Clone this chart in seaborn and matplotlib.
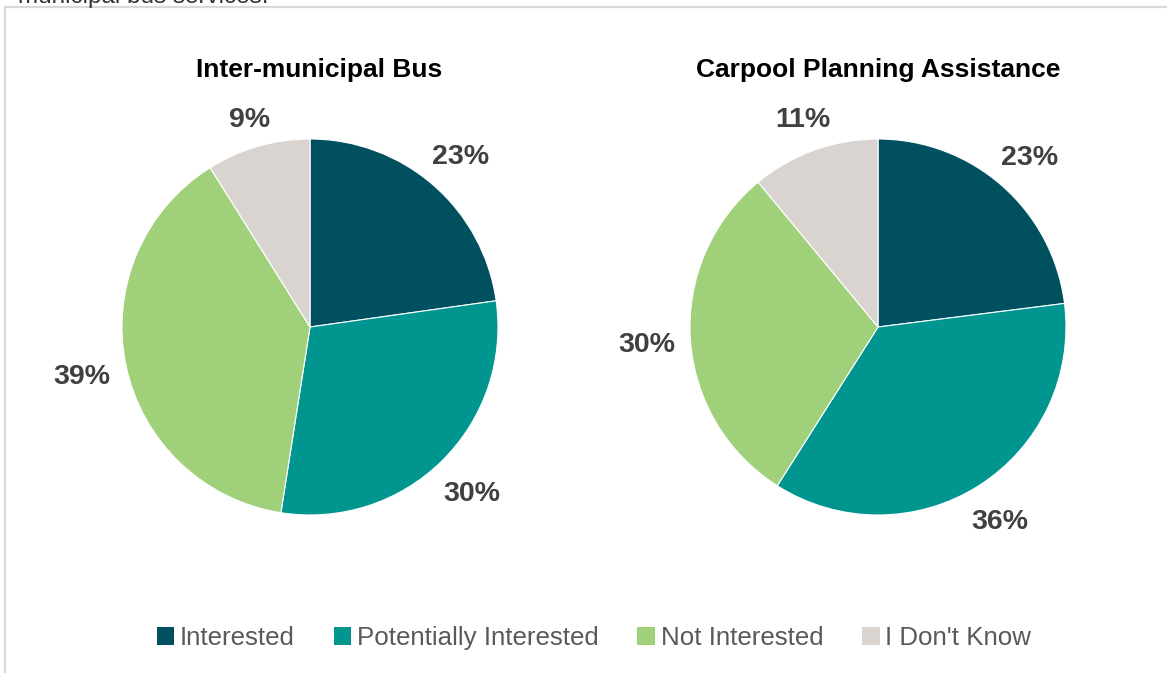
import matplotlib
matplotlib.use("Agg")
import numpy as np
import matplotlib.pyplot as plt
from matplotlib.lines import Line2D
from matplotlib.patches import Patch
import seaborn as sns

# Survey responses (percent)
categories = ["Interested", "Potentially Interested", "Not Interested", "I Don't Know"]
bus_values = [23, 30, 39, 9]
carpool_values = [23, 36, 30, 11]
chart_titles = ["Inter-municipal Bus", "Carpool Planning Assistance"]
colors = ["#00505F", "#00968F", "#A0D07A", "#D9D4CF"]

sns.set_theme(style="white")
plt.rcParams["font.family"] = ["Liberation Sans", "DejaVu Sans"]
palette = sns.color_palette(colors)

W, H = 1167, 673
fig = plt.figure(figsize=(W / 100, H / 100), dpi=100)
fig.patch.set_facecolor("white")


def fx(px):
    return px / W


def fy(py):
    return 1 - py / H


# Frame around the chart area
fig.add_artist(Line2D([fx(5), fx(5)], [fy(7), fy(H + 5)], color="#D9D9D9", lw=1.6,
                      transform=fig.transFigure))
fig.add_artist(Line2D([fx(5), fx(W + 5)], [fy(7), fy(7)], color="#D9D9D9", lw=1.6,
                      transform=fig.transFigure))

# Caption line running off the top edge
fig.text(fx(18), fy(3), "municipal bus services.", fontsize=17.5, color="#333333",
         ha="left", va="baseline")

R = 188  # pie radius in pixels
half = 250
centers = [(310, 327), (878, 327)]
title_x = [319, 878]
label_fs = 20.5
gap = 15  # pixels between pie edge and label box

for (cx, cy), vals, title, tx in zip(centers, [bus_values, carpool_values], chart_titles, title_x):
    ax = fig.add_axes([fx(cx - half), fy(cy + half), 2 * half / W, 2 * half / H])
    wedges, _ = ax.pie(vals, colors=palette, startangle=90, counterclock=False, radius=1,
                       wedgeprops=dict(edgecolor="white", linewidth=0.8))
    lim = half / R
    ax.set_xlim(-lim, lim)
    ax.set_ylim(-lim, lim)
    ax.set_aspect("equal")
    ax.axis("off")
    for w, v in zip(wedges, vals):
        mid = np.deg2rad((w.theta1 + w.theta2) / 2)
        label = f"{v}%"
        # approximate half extents of the label box, in pixels
        hw = 0.5 * label_fs * 100 / 72 * (0.556 * (len(label) - 1) + 0.889)
        hh = 0.5 * label_fs * 100 / 72 * 0.75
        d = (R + gap + abs(np.cos(mid)) * hw + abs(np.sin(mid)) * hh) / R
        ax.text(d * np.cos(mid), d * np.sin(mid), label, ha="center", va="center_baseline",
                fontsize=label_fs, fontweight="bold", color="#404040")
    fig.text(fx(tx), fy(70), title, ha="center", va="center", fontsize=19,
             fontweight="bold", color="black")

handles = [Patch(facecolor=c, edgecolor="none") for c in palette]
leg = fig.legend(handles, categories, loc="center", bbox_to_anchor=(fx(594), fy(638)),
                 ncol=4, frameon=False, fontsize=18.6, handlelength=0.68, handleheight=0.68,
                 handletextpad=0.22, columnspacing=1.5, borderaxespad=0)
for t in leg.get_texts():
    t.set_color("#595959")

fig.savefig("out.png", dpi=100, facecolor="white")
